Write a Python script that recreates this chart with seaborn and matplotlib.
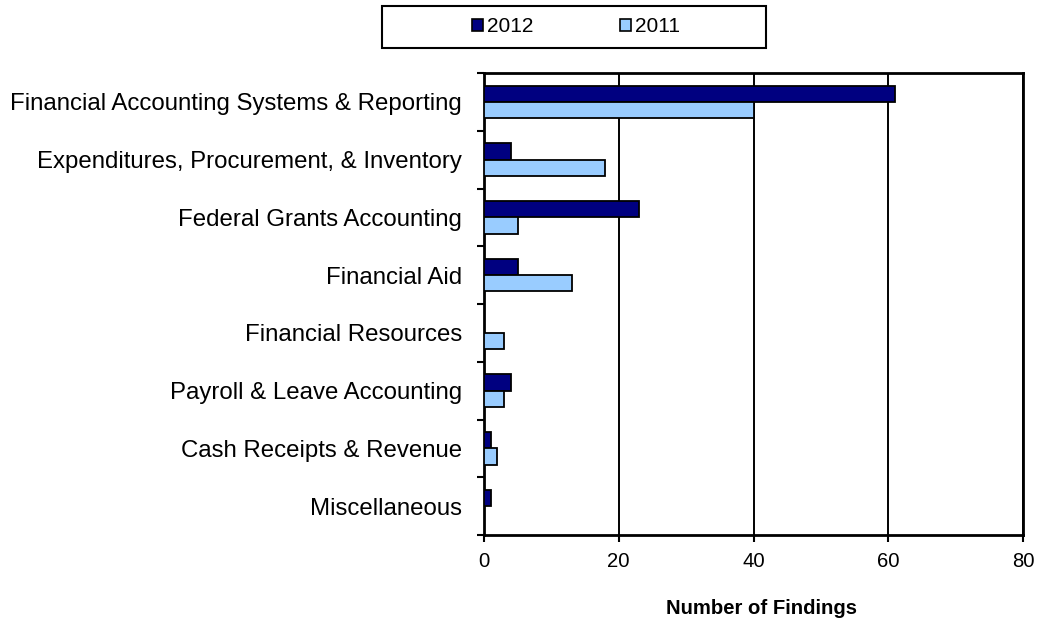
import matplotlib
matplotlib.use("Agg")
import matplotlib.pyplot as plt
from matplotlib.patches import Rectangle
import numpy as np
import pandas as pd
import seaborn as sns

categories = [
    "Financial Accounting Systems & Reporting",
    "Expenditures, Procurement, & Inventory",
    "Federal Grants Accounting",
    "Financial Aid",
    "Financial Resources",
    "Payroll & Leave Accounting",
    "Cash Receipts & Revenue",
    "Miscellaneous",
]
findings_2012 = [61, 4, 23, 5, 0, 4, 1, 1]
findings_2011 = [40, 18, 5, 13, 3, 3, 2, 0]
years = ["2012", "2011"]
x_ticks = [0, 20, 40, 60, 80]

df = pd.DataFrame({
    "category": categories * 2,
    "year": [years[0]] * len(categories) + [years[1]] * len(categories),
    "findings": findings_2012 + findings_2011,
})

sns.set_style("white")
plt.rcParams["font.family"] = ["Liberation Sans", "DejaVu Sans"]
plt.rcParams["text.color"] = "black"
plt.rcParams["xtick.color"] = "black"
plt.rcParams["ytick.color"] = "black"
plt.rcParams["axes.labelcolor"] = "black"

W, H = 1039, 622
fig = plt.figure(figsize=(W / 100, H / 100), dpi=100)
ax = fig.add_axes([484 / W, 1 - 535 / H, (1023 - 484) / W, (535 - 73) / H])

palette = {"2012": "#000080", "2011": "#99CCFF"}
sns.barplot(data=df, y="category", x="findings", hue="year", order=categories,
            hue_order=years, palette=palette, orient="h", width=0.56,
            edgecolor="black", linewidth=1.3, saturation=1, ax=ax, legend=False,
            zorder=3)

ax.set_xlim(0, 80)
ax.set_ylim(len(categories) - 0.5, -0.5)
ax.set_xticks(x_ticks)
ax.set_xticklabels([str(t) for t in x_ticks], fontsize=14.6)
ax.xaxis.grid(True, color="black", linewidth=1.4, zorder=0)
ax.set_axisbelow(True)

ax.set_yticks(range(len(categories)))
ax.set_yticklabels(categories, fontsize=17.3)
ax.tick_params(axis="y", which="major", length=0, pad=16)
ax.set_yticks(np.arange(-0.5, len(categories), 1.0), minor=True)
ax.tick_params(axis="y", which="minor", length=5, width=1.5, color="black",
               direction="out", left=True)
ax.tick_params(axis="x", which="major", length=5, width=1.5, color="black",
               direction="out", bottom=True, pad=7)

for sp in ax.spines.values():
    sp.set_visible(True)
    sp.set_color("black")
    sp.set_linewidth(2)

ax.set_ylabel("")
ax.set_xlabel("Number of Findings", fontsize=14.6, fontweight="bold")
ax.xaxis.set_label_coords((761.5 - 484) / (1023 - 484), -(609 - 535) / (535 - 73))
ax.xaxis.label.set_va("center")

# legend frame and entries
fig.patches.append(Rectangle((382 / W, 1 - 48 / H), 384 / W, 42 / H,
                             transform=fig.transFigure, facecolor="white",
                             edgecolor="black", linewidth=1.5))
fs_leg = 15
em = fs_leg * 100 / 72
handles = [Rectangle((0, 0), 1, 1, facecolor=palette[y], edgecolor="black",
                     linewidth=1.2) for y in years]
fig.legend(handles, years, loc="center", bbox_to_anchor=(576 / W, 1 - 27 / H),
           ncol=2, fontsize=fs_leg, frameon=False,
           handlelength=11 / em, handleheight=11 / em,
           handletextpad=4 / em, columnspacing=87 / em, borderpad=0,
           borderaxespad=0)

fig.savefig("out.png", dpi=100)
